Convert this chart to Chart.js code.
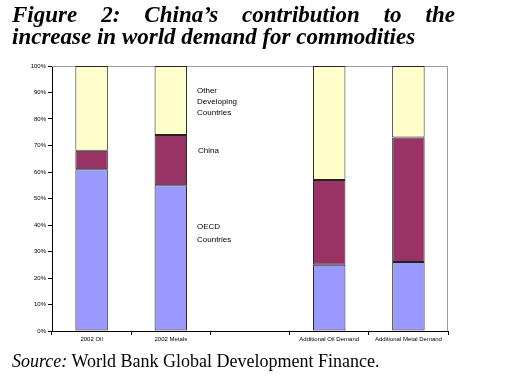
<!DOCTYPE html>
<html><head><meta charset="utf-8">
<script src="https://cdn.jsdelivr.net/npm/chart.js@4/dist/chart.umd.min.js"></script>
<style>
html,body{margin:0;padding:0;background:#fff;}
body{width:521px;height:385px;position:relative;overflow:hidden;}
.t{position:absolute;left:12px;width:443px;font-family:"Liberation Serif","Times New Roman",serif;font-weight:bold;font-style:italic;font-size:23px;line-height:23px;color:#000;white-space:nowrap;}
#t1{top:2.5px;text-align:justify;text-align-last:justify;white-space:normal;}
#t2{top:25px;}
#src{position:absolute;left:12px;top:351px;font-family:"Liberation Serif","Times New Roman",serif;font-size:18px;color:#000;white-space:nowrap;}
#wrap{position:absolute;left:0;top:0;width:521px;height:385px;}
</style></head>
<body>
<div id="wrap"><canvas id="c" width="521" height="385"></canvas></div>
<div class="t" id="t1">Figure 2: China’s contribution to the</div>
<div class="t" id="t2">increase in world demand for commodities</div>
<div id="src"><i>Source:</i> World Bank Global Development Finance.</div>
<script>
const categories = ["2002 Oil", "2002 Metals", "", "Additional Oil Demand", "Additional Metal Demand"];
const oecd = [61, 55, null, 25, 26];
const china = [7, 19, null, 32, 47];
const otherDev = [32, 26, null, 43, 27];
const yTicks = [0,10,20,30,40,50,60,70,80,90,100];

const borderPlugin = {
  id: 'plotBorder',
  beforeDatasetsDraw(chart) {
    const {ctx, chartArea: a} = chart;
    ctx.save();
    ctx.strokeStyle = '#9a9a9a';
    ctx.lineWidth = 1;
    ctx.beginPath();
    ctx.moveTo(a.left, a.top + 0.5);
    ctx.lineTo(a.right - 0.5, a.top + 0.5);
    ctx.lineTo(a.right - 0.5, a.bottom);
    ctx.stroke();
    ctx.restore();
  },
  afterDraw(chart) {
    const {ctx} = chart;
    ctx.save();
    ctx.fillStyle = '#000';
    ctx.font = '8px "Liberation Sans", Arial, sans-serif';
    ctx.textBaseline = 'middle';
    const x = 197;
    ctx.fillText('Other', x, 91);
    ctx.fillText('Developing', x, 102);
    ctx.fillText('Countries', x, 113);
    ctx.fillText('China', x + 1, 151);
    ctx.fillText('OECD', x, 227);
    ctx.fillText('Countries', x, 240);
    ctx.restore();
  }
};

const common = {borderColor: '#222', borderWidth: 1, barPercentage: 0.41, categoryPercentage: 1, borderSkipped: false};
new Chart(document.getElementById('c'), {
  type: 'bar',
  data: {
    labels: categories,
    datasets: [
      Object.assign({label: 'OECD Countries', data: oecd, backgroundColor: '#9999ff'}, common),
      Object.assign({label: 'China', data: china, backgroundColor: '#993366'}, common),
      Object.assign({label: 'Other Developing Countries', data: otherDev, backgroundColor: '#ffffcc'}, common)
    ]
  },
  options: {
    responsive: false,
    animation: false,
    devicePixelRatio: 1,
    layout: {padding: {left: 0, right: 73, top: 66, bottom: 38}},
    plugins: {legend: {display: false}, tooltip: {enabled: false}},
    scales: {
      x: {
        stacked: true,
        grid: {display: true, drawOnChartArea: false, drawTicks: true, tickLength: 4, color: '#000', offset: true},
        border: {display: true, color: '#000'},
        ticks: {color: '#000', font: {family: '"Liberation Sans", Arial, sans-serif', size: 6}, maxRotation: 0, autoSkip: false, padding: 1},
        afterFit(s) { s.height = 16; }
      },
      y: {
        stacked: true,
        min: 0, max: 100,
        afterBuildTicks(s) { s.ticks = yTicks.map(v => ({value: v})); },
        grid: {display: true, drawOnChartArea: false, drawTicks: true, tickLength: 4, color: '#000'},
        border: {display: true, color: '#000'},
        ticks: {color: '#000', font: {family: '"Liberation Sans", Arial, sans-serif', size: 6}, padding: 2, callback: v => v + '%'},
        afterFit(s) { s.width = 52; }
      }
    }
  },
  plugins: [borderPlugin]
});
</script>
</body></html>
